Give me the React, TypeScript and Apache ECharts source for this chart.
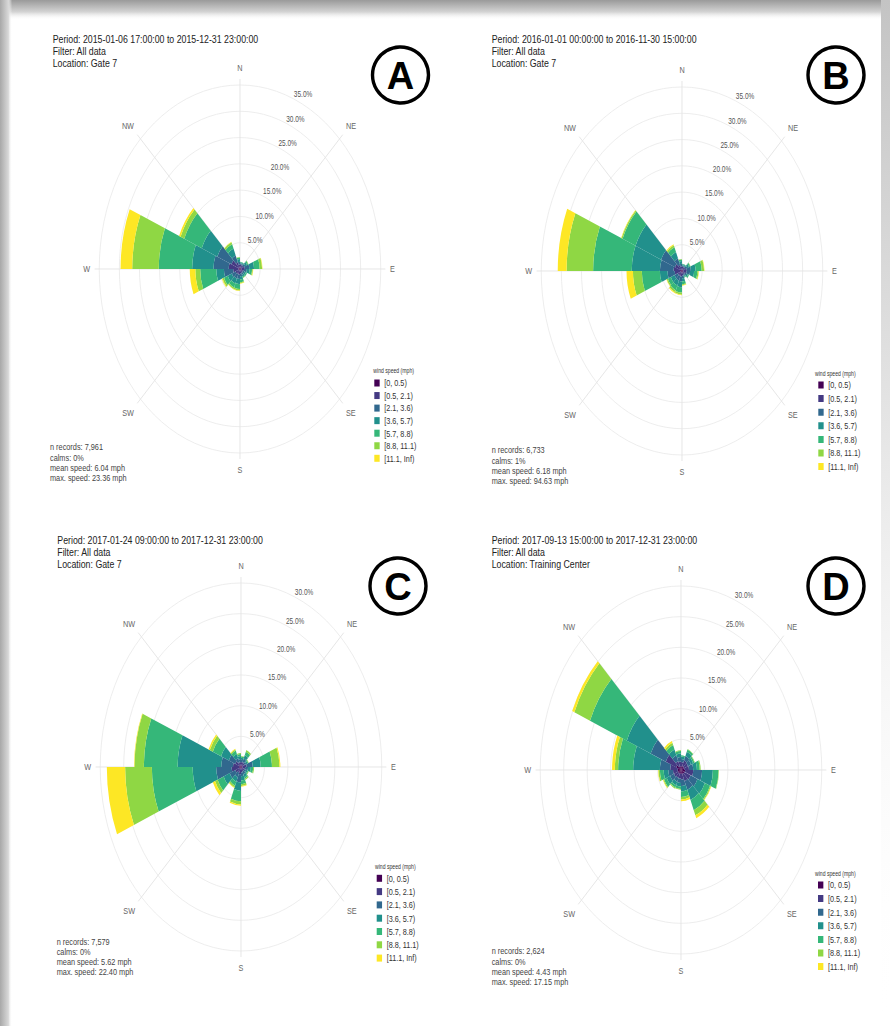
import React, { useEffect, useRef } from 'react';
import * as echarts from 'echarts';

// ---------------- data ----------------
const SPEED_BINS = ['[0, 0.5)', '[0.5, 2.1)', '[2.1, 3.6)', '[3.6, 5.7)', '[5.7, 8.8)', '[8.8, 11.1)', '[11.1, Inf)'];
const SPEED_COLORS = ['#440154', '#443A83', '#31688E', '#21908C', '#35B779', '#8FD744', '#FDE725'];
const DIRECTION_BINS = [
  '0-22.5', '22.5-45', '45-67.5', '67.5-90', '90-112.5', '112.5-135', '135-157.5', '157.5-180',
  '180-202.5', '202.5-225', '225-247.5', '247.5-270', '270-292.5', '292.5-315', '315-337.5', '337.5-360',
];
const COMPASS_TICKS = ['N', 'NE', 'E', 'SE', 'S', 'SW', 'W', 'NW'];
const LEGEND_TITLE = 'wind speed (mph)';

// Panel A (% of records per direction bin, per speed class)
const A_HEADER = ['Period: 2015-01-06 17:00:00 to 2015-12-31 23:00:00', 'Filter: All data', 'Location: Gate 7'];
const A_STATS = ['n records: 7,961', 'calms: 0%', 'mean speed: 6.04 mph', 'max. speed: 23.36 mph'];
const A_S0 = [0.3, 0.3, 0.3, 0.3, 0.3, 0.3, 0.3, 0.3, 0.3, 0.3, 0.3, 0.3, 0.4, 0.4, 0.3, 0.3];
const A_S1 = [0.5, 0.5, 0.6, 0.9, 0.7, 0.5, 0.5, 0.6, 0.8, 0.8, 0.9, 1.4, 2.4, 1.9, 1.1, 0.6];
const A_S2 = [0.3, 0.3, 0.5, 1.1, 0.7, 0.4, 0.4, 0.5, 0.8, 0.9, 1.0, 2.3, 3.8, 3.8, 1.4, 0.5];
const A_S3 = [0.2, 0.2, 0.5, 1.2, 0.7, 0.4, 0.4, 0.6, 1.0, 1.0, 1.1, 1.9, 5.3, 4.2, 1.4, 0.5];
const A_S4 = [0.1, 0.1, 0.3, 1.4, 0.6, 0.3, 0.2, 0.5, 0.9, 0.8, 1.0, 4.0, 8.3, 4.7, 0.9, 0.3];
const A_S5 = [0, 0, 0.1, 0.6, 0.2, 0, 0.1, 0.2, 0.3, 0.3, 0.4, 1.2, 6.6, 1.0, 0.4, 0.1];
const A_S6 = [0, 0, 0, 0.1, 0.1, 0, 0, 0.1, 0.1, 0.1, 0.2, 1.4, 2.9, 0.4, 0.1, 0];

// Panel B
const B_HEADER = ['Period: 2016-01-01 00:00:00 to 2016-11-30 15:00:00', 'Filter: All data', 'Location: Gate 7'];
const B_STATS = ['n records: 6,733', 'calms: 1%', 'mean speed: 6.18 mph', 'max. speed: 94.63 mph'];
const B_S0 = [0.3, 0.3, 0.3, 0.3, 0.3, 0.3, 0.3, 0.3, 0.3, 0.3, 0.3, 0.4, 0.5, 0.4, 0.3, 0.3];
const B_S1 = [0.5, 0.5, 0.6, 0.9, 0.8, 0.5, 0.4, 0.6, 0.8, 0.8, 0.8, 1.4, 1.6, 1.5, 1.0, 0.6];
const B_S2 = [0.3, 0.3, 0.5, 1.0, 0.9, 0.4, 0.3, 0.5, 0.9, 0.9, 0.9, 1.8, 3.4, 3.7, 1.3, 0.5];
const B_S3 = [0.2, 0.2, 0.5, 1.2, 1.0, 0.4, 0.2, 0.6, 1.1, 1.0, 1.0, 1.9, 7.0, 6.9, 1.3, 0.5];
const B_S4 = [0.1, 0.1, 0.3, 1.5, 0.8, 0.3, 0.2, 0.5, 1.0, 1.0, 0.8, 4.5, 9.6, 3.5, 1.0, 0.3];
const B_S5 = [0, 0, 0.1, 0.6, 0.3, 0, 0, 0.2, 0.4, 0.4, 0.3, 2.2, 6.6, 0.3, 0.4, 0.1];
const B_S6 = [0, 0, 0, 0.1, 0.1, 0, 0, 0.1, 0.1, 0.2, 0.1, 1.6, 2.2, 0.1, 0.2, 0];

// Panel C
const C_HEADER = ['Period: 2017-01-24 09:00:00 to 2017-12-31 23:00:00', 'Filter: All data', 'Location: Gate 7'];
const C_STATS = ['n records: 7,579', 'calms: 0%', 'mean speed: 5.62 mph', 'max. speed: 22.40 mph'];
const C_S0 = [0.3, 0.3, 0.3, 0.3, 0.3, 0.3, 0.3, 0.3, 0.3, 0.3, 0.3, 0.4, 0.4, 0.3, 0.3, 0.3];
const C_S1 = [0.5, 0.6, 0.5, 0.9, 0.6, 0.5, 0.5, 0.6, 0.9, 0.7, 1.0, 1.6, 1.3, 1.0, 0.6, 0.5];
const C_S2 = [0.4, 0.6, 0.4, 1.3, 0.6, 0.4, 0.5, 0.6, 1.3, 0.8, 1.3, 3.3, 2.5, 1.5, 0.7, 0.5];
const C_S3 = [0.3, 0.6, 0.3, 1.7, 0.6, 0.3, 0.5, 0.7, 1.4, 0.8, 1.4, 5.0, 9.3, 1.8, 0.7, 0.5];
const C_S4 = [0.2, 0.6, 0.2, 2.4, 0.5, 0.2, 0.3, 0.6, 1.7, 0.7, 1.4, 8.7, 7.2, 1.9, 0.6, 0.3];
const C_S5 = [0.1, 0.3, 0.1, 1.6, 0.2, 0.1, 0.2, 0.3, 0.5, 0.3, 0.6, 5.7, 2.0, 0.7, 0.2, 0.2];
const C_S6 = [0, 0, 0, 0.2, 0, 0, 0, 0.1, 0.2, 0.1, 0.5, 3.9, 0.1, 0.3, 0.1, 0];

// Panel D
const D_HEADER = ['Period: 2017-09-13 15:00:00 to 2017-12-31 23:00:00', 'Filter: All data', 'Location: Training Center'];
const D_STATS = ['n records: 2,624', 'calms: 0%', 'mean speed: 4.43 mph', 'max. speed: 17.15 mph'];
const D_S0 = [0.6, 0.7, 0.7, 0.7, 0.9, 0.8, 0.7, 0.6, 0.6, 0.6, 0.7, 0.7, 0.7, 1.1, 0.6, 0.6];
const D_S1 = [0.7, 1.0, 0.9, 1.0, 1.7, 1.4, 1.3, 1.0, 0.8, 0.8, 0.9, 1.0, 1.6, 2.4, 1.0, 0.8];
const D_S2 = [0.5, 0.8, 0.7, 0.9, 1.9, 1.6, 1.5, 1.0, 0.7, 0.7, 0.9, 1.0, 2.2, 3.5, 1.0, 0.7];
const D_S3 = [0.4, 0.7, 0.5, 0.8, 2.3, 1.7, 1.8, 0.9, 0.6, 0.6, 0.8, 1.0, 5.7, 5.5, 1.0, 0.6];
const D_S4 = [0.2, 0.4, 0.3, 0.6, 1.2, 1.2, 1.8, 0.9, 0.4, 0.4, 0.6, 0.8, 3.2, 8.5, 0.8, 0.4];
const D_S5 = [0, 0.1, 0.1, 0.2, 0.1, 0.2, 0.9, 0.4, 0.1, 0.2, 0.2, 0.3, 0.7, 3.6, 0.4, 0.1];
const D_S6 = [0, 0, 0, 0, 0, 0.1, 0.5, 0.3, 0, 0, 0.1, 0.1, 0.6, 0.5, 0.3, 0];

// ---------------- layout ----------------
const SX = 0.765; // horizontal squeeze of the whole figure
const PAGE_W = 890;
const PAGE_H = 1026;
const CHART_W = Math.round(PAGE_W / SX);
const FONT = '"Liberation Sans", Arial, Helvetica, sans-serif';
const BAR_RADIUS = 184;
const SPOKE_RADIUS = 190;

const PANELS = [
  {
    badge: 'A', header: A_HEADER, stats: A_STATS, speeds: [A_S0, A_S1, A_S2, A_S3, A_S4, A_S5, A_S6], ringMax: 35,
    cx: 240, cy: 269, headX: 52.7, headY: 39, statsX: 50, statsY: 447,
    legX: 374.3, legY: 383, legStep: 12.55, legTitleX: 373.3, legTitleY: 371, bx: 400.5, by: 75,
  },
  {
    badge: 'B', header: B_HEADER, stats: B_STATS, speeds: [B_S0, B_S1, B_S2, B_S3, B_S4, B_S5, B_S6], ringMax: 35,
    cx: 682, cy: 271, headX: 491.7, headY: 39, statsX: 491.7, statsY: 450,
    legX: 818.3, legY: 385, legStep: 13.6, legTitleX: 815, legTitleY: 373.3, bx: 836, by: 75,
  },
  {
    badge: 'C', header: C_HEADER, stats: C_STATS, speeds: [C_S0, C_S1, C_S2, C_S3, C_S4, C_S5, C_S6], ringMax: 30,
    cx: 241, cy: 767, headX: 57.3, headY: 540.5, statsX: 56.7, statsY: 941.7,
    legX: 376.7, legY: 878.3, legStep: 13.3, legTitleX: 375, legTitleY: 866.7, bx: 398, by: 586,
  },
  {
    badge: 'D', header: D_HEADER, stats: D_STATS, speeds: [D_S0, D_S1, D_S2, D_S3, D_S4, D_S5, D_S6], ringMax: 30,
    cx: 681, cy: 770, headX: 491.7, headY: 540, statsX: 491.7, statsY: 951,
    legX: 818, legY: 885, legStep: 13.6, legTitleX: 815, legTitleY: 873.3, bx: 836, by: 586,
  },
];

// bar angle axis starts at bearing 22.5, so category 0 holds direction bin 1
const rotateOne = (arr: any[]) => [...arr.slice(1), arr[0]];

function buildChartOption() {
  const polar: any[] = [];
  const angleAxis: any[] = [];
  const radiusAxis: any[] = [];
  const series: any[] = [];
  const title: any[] = [];
  const legend: any[] = [];

  PANELS.forEach((p, i) => {
    const center = [p.cx / SX, p.cy];
    const barIdx = i * 3;
    const gridIdx = i * 3 + 1;
    const labelIdx = i * 3 + 2;

    polar.push({ center, radius: BAR_RADIUS });
    polar.push({ center, radius: SPOKE_RADIUS });
    polar.push({ center, radius: BAR_RADIUS });

    // bars + rings
    angleAxis.push({
      polarIndex: barIdx,
      type: 'category',
      data: rotateOne(DIRECTION_BINS),
      startAngle: 67.5,
      clockwise: true,
      boundaryGap: true,
      axisLine: { show: false },
      axisTick: { show: false },
      axisLabel: { show: false },
      splitLine: { show: false },
    });
    radiusAxis.push({
      polarIndex: barIdx,
      type: 'value',
      min: 0,
      max: p.ringMax,
      interval: 5,
      axisLine: { show: false },
      axisTick: { show: false },
      axisLabel: { show: false },
      splitLine: { show: true, lineStyle: { color: '#ebebeb', width: 1 } },
    });

    // spokes + compass labels
    angleAxis.push({
      polarIndex: gridIdx,
      type: 'value',
      min: 0,
      max: 360,
      interval: 45,
      startAngle: 90,
      clockwise: true,
      axisLine: { show: false },
      axisTick: { show: false },
      axisLabel: {
        margin: 6,
        fontSize: 9.5,
        color: '#666',
        fontFamily: FONT,
        formatter: (v: number) => (v >= 360 ? '' : COMPASS_TICKS[Math.round(v / 45) % 8]),
      },
      splitLine: { show: true, lineStyle: { color: '#e2e2e2', width: 1 } },
    });
    radiusAxis.push({ polarIndex: gridIdx, type: 'value', min: 0, max: 1, show: false });

    // percentage labels along bearing 22.5
    angleAxis.push({
      polarIndex: labelIdx,
      type: 'value',
      min: 0,
      max: 360,
      startAngle: 67.5,
      clockwise: true,
      axisLine: { show: false },
      axisTick: { show: false },
      axisLabel: { show: false },
      splitLine: { show: false },
    });
    radiusAxis.push({
      polarIndex: labelIdx,
      type: 'value',
      min: 0,
      max: p.ringMax,
      interval: 5,
      axisLine: { show: false },
      axisTick: { show: false },
      splitLine: { show: false },
      axisLabel: {
        showMinLabel: false,
        margin: 0,
        align: 'left',
        verticalAlign: 'bottom',
        formatter: (v: number) => v.toFixed(1) + '%',
        fontSize: 8.5,
        color: '#555',
        fontFamily: FONT,
      },
    });

    p.speeds.forEach((arr, s) => {
      series.push({
        type: 'bar',
        name: SPEED_BINS[s],
        coordinateSystem: 'polar',
        polarIndex: barIdx,
        stack: 'rose' + i,
        data: rotateOne(arr),
        barCategoryGap: '0%',
        itemStyle: { color: SPEED_COLORS[s], borderWidth: 0 },
        silent: true,
        z: 3,
      });
    });

    title.push({
      text: p.header.join('\n'),
      left: p.headX / SX,
      top: p.headY - 6,
      padding: 0,
      textStyle: { fontSize: 11.5, lineHeight: 12, fontWeight: 'normal', color: '#222', fontFamily: FONT },
    });
    title.push({
      text: p.stats.join('\n'),
      left: p.statsX / SX,
      top: p.statsY - 5,
      padding: 0,
      textStyle: { fontSize: 9.6, lineHeight: 10.1, fontWeight: 'normal', color: '#444', fontFamily: FONT },
    });
    title.push({
      text: LEGEND_TITLE,
      left: p.legTitleX / SX,
      top: p.legTitleY - 4,
      padding: 0,
      textStyle: { fontSize: 6.7, lineHeight: 8, fontWeight: 'normal', color: '#333', fontFamily: FONT },
    });

    legend.push({
      orient: 'vertical',
      left: p.legX / SX,
      top: p.legY - 5,
      padding: 0,
      itemWidth: 7,
      itemHeight: 7,
      itemGap: p.legStep - 10,
      icon: 'rect',
      selectedMode: false,
      data: SPEED_BINS,
      textStyle: { fontSize: 9.5, lineHeight: 10, color: '#333', fontFamily: FONT, padding: [0, 0, 0, 1] },
    });
  });

  return {
    animation: false,
    backgroundColor: '#ffffff',
    textStyle: { fontFamily: FONT },
    polar,
    angleAxis,
    radiusAxis,
    series,
    title,
    legend,
  };
}

function buildOverlayOption() {
  const graphic: any[] = [
    {
      type: 'rect',
      shape: { x: 0, y: 0, width: PAGE_W, height: 20 },
      style: {
        fill: new echarts.graphic.LinearGradient(0, 0, 0, 1, [
          { offset: 0, color: '#9a9a9a' },
          { offset: 0.6, color: '#d4d4d4' },
          { offset: 1, color: 'rgba(255,255,255,0)' },
        ]),
      },
      silent: true,
    },
    {
      type: 'rect',
      shape: { x: 0, y: 0, width: 12, height: PAGE_H },
      style: {
        fill: new echarts.graphic.LinearGradient(0, 0, 1, 0, [
          { offset: 0, color: '#a8a8a8' },
          { offset: 0.7, color: '#d8d8d8' },
          { offset: 1, color: 'rgba(255,255,255,0)' },
        ]),
      },
      silent: true,
    },
    {
      type: 'rect',
      shape: { x: PAGE_W - 9, y: 0, width: 9, height: PAGE_H },
      style: {
        fill: new echarts.graphic.LinearGradient(0, 0, 0, 1, [
          { offset: 0, color: '#c4c4c4' },
          { offset: 0.5, color: '#ececec' },
          { offset: 1, color: 'rgba(255,255,255,0)' },
        ]),
      },
      silent: true,
    },
  ];
  PANELS.forEach((p) => {
    graphic.push({
      type: 'circle',
      shape: { cx: p.bx, cy: p.by, r: 28 },
      style: { fill: '#ffffff', stroke: '#000000', lineWidth: 3.4 },
      silent: true,
    });
    graphic.push({
      type: 'text',
      x: p.bx,
      y: p.by + 1,
      style: {
        text: p.badge,
        fill: '#000000',
        fontSize: 38,
        fontWeight: 'bold',
        fontFamily: FONT,
        align: 'center',
        verticalAlign: 'middle',
        textAlign: 'center',
        textVerticalAlign: 'middle',
      },
      silent: true,
    });
  });
  return { animation: false, backgroundColor: 'transparent', graphic };
}

export default function App() {
  const chartRef = useRef<HTMLDivElement>(null);
  const overlayRef = useRef<HTMLDivElement>(null);

  useEffect(() => {
    if (!chartRef.current || !overlayRef.current) return;
    const chart = echarts.init(chartRef.current, undefined, { renderer: 'svg' });
    chart.setOption(buildChartOption());
    const overlay = echarts.init(overlayRef.current, undefined, { renderer: 'svg' });
    overlay.setOption(buildOverlayOption());
    return () => {
      chart.dispose();
      overlay.dispose();
    };
  }, []);

  return (
    <div
      style={{
        position: 'fixed',
        left: 0,
        top: 0,
        width: PAGE_W,
        height: PAGE_H,
        overflow: 'hidden',
        background: '#ffffff',
      }}
    >
      <div
        ref={chartRef}
        style={{
          position: 'absolute',
          left: 0,
          top: 0,
          width: CHART_W,
          height: PAGE_H,
          transform: `scaleX(${SX})`,
          transformOrigin: '0 0',
        }}
      />
      <div
        ref={overlayRef}
        style={{ position: 'absolute', left: 0, top: 0, width: PAGE_W, height: PAGE_H, pointerEvents: 'none' }}
      />
    </div>
  );
}
